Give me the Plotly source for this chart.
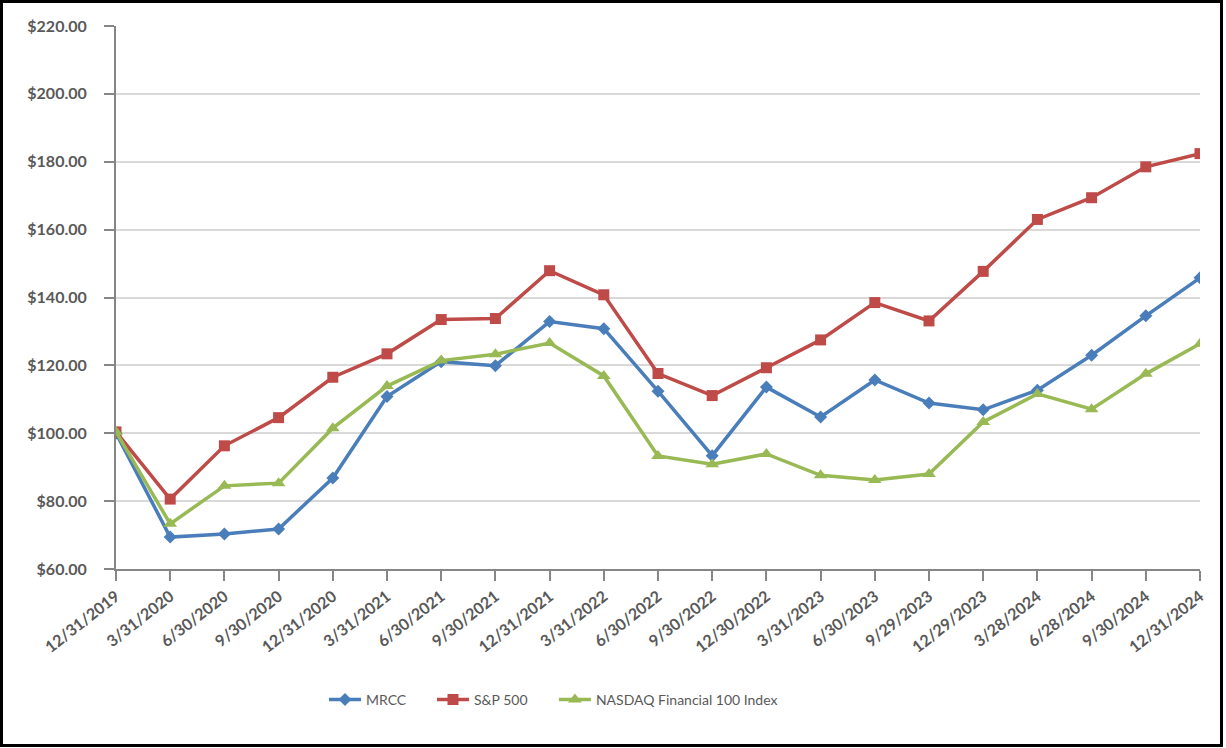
import plotly.graph_objects as go

dates = ["12/31/2019", "3/31/2020", "6/30/2020", "9/30/2020", "12/31/2020", "3/31/2021",
         "6/30/2021", "9/30/2021", "12/31/2021", "3/31/2022", "6/30/2022", "9/30/2022",
         "12/30/2022", "3/31/2023", "6/30/2023", "9/29/2023", "12/29/2023", "3/28/2024",
         "6/28/2024", "9/30/2024", "12/31/2024"]

mrcc = [100.0, 69.4, 70.3, 71.8, 86.8, 110.8, 121.1, 119.9, 132.9, 130.8, 112.4, 93.4,
        113.6, 104.8, 115.7, 108.9, 106.9, 112.7, 123.0, 134.6, 145.8]
sp500 = [100.4, 80.6, 96.3, 104.6, 116.5, 123.4, 133.5, 133.8, 147.9, 140.8, 117.6, 111.1,
         119.3, 127.5, 138.5, 133.1, 147.7, 163.0, 169.4, 178.5, 182.4]
nasdaq = [100.4, 73.3, 84.5, 85.3, 101.5, 113.9, 121.4, 123.3, 126.6, 116.9, 93.3, 90.9,
          93.9, 87.6, 86.2, 88.0, 103.3, 111.6, 107.1, 117.5, 126.4]

series = [
    ("MRCC", mrcc, "#4A7EBB", "diamond", 10, "legend", 0.1919),
    ("S&P 500", sp500, "#BE4B48", "square", 11, "legend2", 0.2915),
    ("NASDAQ Financial 100 Index", nasdaq, "#98B954", "triangle-up", 12, "legend3", 0.404),
]

legend_font = dict(family="Lato, 'Open Sans', sans-serif", size=14, color="#595959")
tick_font = dict(family="Lato, 'Open Sans', sans-serif", size=16, color="#595959")

fig = go.Figure()
legends = {}
for name, vals, color, sym, size, leg, lx in series:
    fig.add_trace(go.Scatter(
        x=list(range(len(dates))), y=vals, name=name, mode="lines+markers",
        line=dict(color=color, width=3.5),
        marker=dict(symbol=sym, size=size, color=color),
        legend=leg,
        hovertemplate=name + ": %{y:$.2f}<extra></extra>",
    ))
    legends[leg] = dict(orientation="h", x=lx, xanchor="left", y=-0.241, yanchor="middle",
                        font=legend_font, itemwidth=32, bgcolor="rgba(0,0,0,0)")

fig.update_layout(
    width=1226, height=748,
    margin=dict(l=116, r=26, t=26, b=179),
    paper_bgcolor="white", plot_bgcolor="white",
    showlegend=True,
    font=tick_font,
    **legends,
)

fig.update_xaxes(
    range=[0, len(dates) - 1],
    tickmode="array", tickvals=list(range(len(dates))), ticktext=[f"<b>{d}</b>" for d in dates],
    tickangle=-38, ticks="outside", ticklen=10, tickcolor="#868686", tickwidth=2,
    showline=True, linecolor="#868686", linewidth=2,
    showgrid=False, zeroline=False, tickfont=tick_font,
)
yticks = list(range(60, 221, 20))
fig.update_yaxes(
    range=[60, 220],
    tickmode="array", tickvals=yticks, ticktext=[f"<b>${v:.2f}</b>" for v in yticks],
    ticks="outside", ticklen=10, tickcolor="#868686", tickwidth=2, ticklabelstandoff=14,
    showline=True, linecolor="#868686", linewidth=2,
    showgrid=True, gridcolor="#D9D9D9", gridwidth=1.5, zeroline=False, tickfont=tick_font,
)

# outer border around the whole figure
fig.add_shape(type="rect", xref="paper", yref="paper",
              x0=(1.5 - 116) / 1084, x1=(1221.5 - 116) / 1084,
              y0=(569 - 745.5) / 543, y1=(569 - 1.5) / 543,
              line=dict(color="black", width=3), fillcolor="rgba(0,0,0,0)", layer="above")

fig.write_html("out.html", config={"displayModeBar": False},
               post_script="document.body.style.margin='0';document.body.style.overflow='hidden';")
